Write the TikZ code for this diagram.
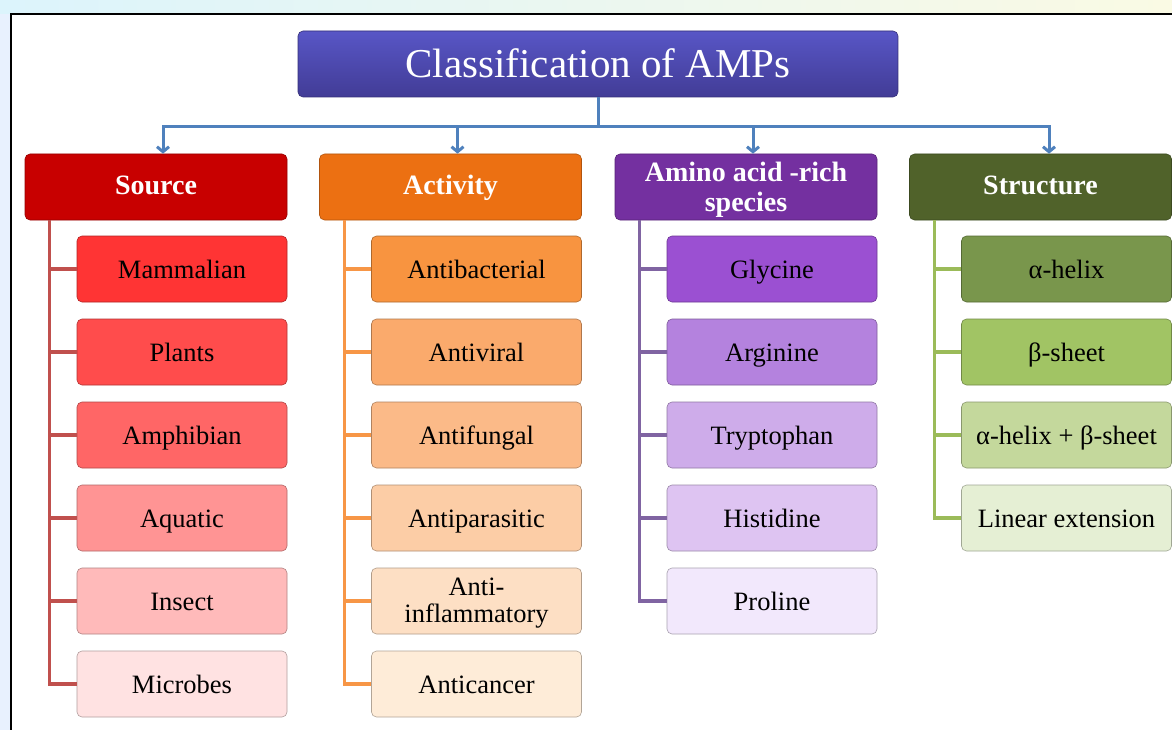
\documentclass[tikz,border=0pt]{standalone}
\usepackage{fontspec}
\setmainfont{Liberation Serif}
\usetikzlibrary{arrows.meta,shadows}
\definecolor{bgcyan}{RGB}{220,244,252}
\definecolor{bgyel}{RGB}{250,250,228}
\definecolor{titletop}{RGB}{88,86,198}
\definecolor{titlebot}{RGB}{66,60,150}
\definecolor{conn}{RGB}{79,129,189}
\definecolor{srcH}{RGB}{200,0,0}
\definecolor{actH}{RGB}{236,112,18}
\definecolor{amiH}{RGB}{116,48,160}
\definecolor{strH}{RGB}{80,98,42}
\definecolor{srcL}{RGB}{192,80,77}
\definecolor{actL}{RGB}{247,150,70}
\definecolor{amiL}{RGB}{128,100,162}
\definecolor{strL}{RGB}{155,187,89}
\definecolor{s1}{RGB}{255,52,52}
\definecolor{s2}{RGB}{255,76,76}
\definecolor{s3}{RGB}{255,102,102}
\definecolor{s4}{RGB}{255,148,148}
\definecolor{s5}{RGB}{255,186,186}
\definecolor{s6}{RGB}{255,226,226}
\definecolor{a1}{RGB}{248,148,64}
\definecolor{a2}{RGB}{250,170,108}
\definecolor{a3}{RGB}{251,186,136}
\definecolor{a4}{RGB}{252,205,166}
\definecolor{a5}{RGB}{253,223,196}
\definecolor{a6}{RGB}{254,236,216}
\definecolor{m1}{RGB}{155,80,210}
\definecolor{m2}{RGB}{180,130,222}
\definecolor{m3}{RGB}{206,172,234}
\definecolor{m4}{RGB}{222,196,242}
\definecolor{m5}{RGB}{242,232,252}
\definecolor{g1}{RGB}{121,150,76}
\definecolor{g2}{RGB}{161,196,100}
\definecolor{g3}{RGB}{196,216,156}
\definecolor{g4}{RGB}{229,239,212}
\tikzset{
  titlebox/.style={rounded corners=5pt, minimum width=600pt, minimum height=66pt,
    top color=titletop, bottom color=titlebot, draw=titlebot!80!black, line width=0.6pt,
    text=white, font=\fontsize{41}{46}\selectfont, inner sep=0pt,
    text height=28pt, text depth=0pt},
  headbox/.style={rounded corners=5pt, minimum width=262pt, minimum height=66pt,
    fill=#1, draw=#1!75!black, line width=0.6pt, text=white, align=center,
    font=\bfseries\fontsize{28}{30}\selectfont, inner sep=0pt,
    text height=19pt, text depth=3pt},
  childbox/.style={rounded corners=5pt, minimum width=210pt, minimum height=66pt,
    fill=#1, draw=#1!70!black, line width=0.6pt, text=black, align=center,
    font=\fontsize{26.5}{27}\selectfont, inner sep=0pt,
    text height=18pt, text depth=0pt},
  connarrow/.style={draw=conn, line width=3pt, -{Straight Barb[length=5pt,width=12pt]}},
  connline/.style={draw=conn, line width=3pt},
  tree/.style={draw=#1, line width=3.4pt}
}
\begin{document}
\begin{tikzpicture}[x=1pt,y=-1pt]
\useasboundingbox (0,0) rectangle (1172,730);
% background
\shade[left color=bgcyan, right color=bgyel] (0,0) rectangle (1172,14);
\fill[bgcyan!90!blue!40!white] (0,14) rectangle (11,730);
\fill[white] (11,14) rectangle (1172,730);
\draw[black, line width=2pt] (11,730) -- (11,14) -- (1172,14);
% title
\node[titlebox] (title) at (598,64) {Classification of AMPs};
\coordinate (hub) at (598,127);
% headers
\node[headbox=srcH] (src) at (156,187) {Source};
\node[headbox=actH] (act) at (450.5,187) {Activity};
\node[headbox=amiH, text height=49pt, text depth=0pt] (ami) at (746,187) {Amino acid -rich\\species};
\node[headbox=strH] (str) at (1040.5,187) {Structure};
\draw[connline] (title.south) -- (hub);
\draw[connarrow] (hub) -| ([xshift=7pt]src.north);
\draw[connarrow] (hub) -| ([xshift=7pt]act.north);
\draw[connarrow] (hub) -| ([xshift=7pt]ami.north);
\draw[connarrow] (hub) -| ([xshift=8.5pt]str.north);
% source children
\node[childbox=s1] (sA) at (182,269) {Mammalian};
\node[childbox=s2] (sB) at (182,352) {Plants};
\node[childbox=s3] (sC) at (182,435) {Amphibian};
\node[childbox=s4] (sD) at (182,518) {Aquatic};
\node[childbox=s5] (sE) at (182,601) {Insect};
\node[childbox=s6] (sF) at (182,684) {Microbes};
\foreach \c in {sA,sB,sC,sD,sE,sF}
  \draw[tree=srcL] ([xshift=25pt]src.south west) |- (\c.west);
% activity children
\node[childbox=a1] (aA) at (476.5,269) {Antibacterial};
\node[childbox=a2] (aB) at (476.5,352) {Antiviral};
\node[childbox=a3] (aC) at (476.5,435) {Antifungal};
\node[childbox=a4] (aD) at (476.5,518) {Antiparasitic};
\node[childbox=a5, text height=42pt, text depth=0pt] (aE) at (476.5,601) {Anti-\\inflammatory};
\node[childbox=a6] (aF) at (476.5,684) {Anticancer};
\foreach \c in {aA,aB,aC,aD,aE,aF}
  \draw[tree=actL] ([xshift=25pt]act.south west) |- (\c.west);
% amino children
\node[childbox=m1] (mA) at (772,269) {Glycine};
\node[childbox=m2] (mB) at (772,352) {Arginine};
\node[childbox=m3] (mC) at (772,435) {Tryptophan};
\node[childbox=m4] (mD) at (772,518) {Histidine};
\node[childbox=m5] (mE) at (772,601) {Proline};
\foreach \c in {mA,mB,mC,mD,mE}
  \draw[tree=amiL] ([xshift=25pt]ami.south west) |- (\c.west);
% structure children
\node[childbox=g1] (gA) at (1066.5,269) {α-helix};
\node[childbox=g2] (gB) at (1066.5,352) {β-sheet};
\node[childbox=g3] (gC) at (1066.5,435) {α-helix + β-sheet};
\node[childbox=g4] (gD) at (1066.5,518) {Linear extension};
\foreach \c in {gA,gB,gC,gD}
  \draw[tree=strL] ([xshift=25pt]str.south west) |- (\c.west);
\end{tikzpicture}
\end{document}
